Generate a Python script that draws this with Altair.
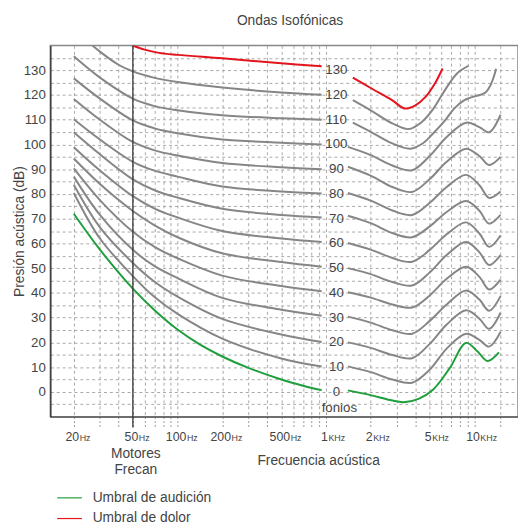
import altair as alt
import pandas as pd

# ---------------- data ----------------
LEFT_F = [20, 30, 50, 70, 100, 200, 500, 935]
L10 = [80.4, 62.0, 46.8, 38.3, 31.5, 21.5, 13.5, 10.3]
L20 = [83.7, 66.5, 52.1, 44.5, 38.5, 29.5, 23.2, 20.2]
L30 = [87.0, 71.5, 57.4, 50.8, 46.0, 38.0, 33.2, 30.8]
L40 = [90.3, 77.5, 64.7, 58.6, 54.0, 47.0, 42.8, 40.7]
L50 = [94.3, 84.0, 73.1, 67.3, 62.5, 56.0, 52.5, 50.6]
L60 = [98.9, 89.5, 79.1, 74.1, 70.5, 65.0, 62.0, 60.6]
L70 = [104.9, 96.0, 85.9, 81.5, 78.5, 74.0, 71.5, 70.5]
L80 = [110.2, 102.0, 93.0, 89.4, 87.0, 83.0, 81.0, 80.2]
L90 = [118.4, 110.0, 101.0, 97.6, 95.5, 92.5, 90.8, 90.0]
L100 = [126.7, 118.5, 109.7, 106.5, 104.5, 102.0, 100.7, 100.0]
L110 = [135.6, 127.0, 118.5, 115.5, 113.8, 111.8, 110.6, 110.0]
L120_F = [20, 25, 30, 40, 50, 70, 100, 200, 500, 935]
L120 = [146.5, 141.5, 137.5, 132.2, 129.5, 126.9, 125.2, 123.0, 121.0, 120.1]

RIGHT_F = [1404, 2000, 2800, 3800, 5000, 6500, 8783, 10800, 12552, 14990]
R10 = [10.3, 8.0, 5.0, 3.7, 9.0, 17.5, 23.5, 21.0, 18.3, 24.2]
R20 = [20.0, 17.8, 14.9, 13.6, 19.4, 27.2, 33.0, 29.6, 25.5, 32.0]
R30 = [30.4, 28.0, 24.9, 23.5, 28.7, 35.3, 41.0, 37.3, 32.8, 38.7]
R40 = [40.3, 38.1, 35.3, 34.1, 39.0, 45.7, 50.6, 46.5, 41.4, 45.4]
R50 = [50.0, 47.6, 44.4, 43.0, 48.3, 55.3, 60.6, 56.4, 51.3, 55.3]
R60 = [60.2, 57.5, 54.1, 52.6, 57.4, 63.7, 68.5, 64.0, 58.6, 63.2]
R70 = [71.2, 68.2, 64.2, 62.5, 66.9, 72.7, 77.1, 73.2, 68.0, 71.5]
R80 = [80.4, 77.3, 73.3, 71.5, 76.4, 82.8, 87.7, 83.5, 78.4, 81.0]
R90 = [91.0, 87.4, 82.8, 80.8, 86.0, 93.0, 98.3, 95.3, 91.7, 95.0]
R100 = [99.0, 95.7, 91.5, 89.6, 95.4, 103.0, 108.8, 107.0, 104.9, 112.0]
R110_F = [1516, 2000, 2800, 3700, 4500, 5280, 6300, 7300, 8500, 9200, 10000, 11000,
          11870, 12800, 13500, 13980]
R110 = [108.8, 105.1, 100.4, 98.3, 100.5, 104.5, 109.5, 114.5, 117.8, 118.7, 119.4, 120.1,
        121.0, 123.8, 127.3, 130.6]
R120_F = [1516, 2000, 2800, 3600, 4400, 5280, 6152, 7630, 9130]
R120 = [117.9, 113.8, 108.5, 106.2, 109.0, 114.4, 120.8, 128.7, 131.8]

G_LEFT_F = [20, 30, 50, 70, 100, 140, 200, 300, 500, 700, 935]
G_LEFT = [72.0, 57.5, 41.7, 33.0, 25.2, 19.3, 14.3, 9.7, 5.0, 2.5, 0.7]
G_RIGHT_F = [1404, 2000, 2700, 3339, 4200, 5280, 6800, 8783, 10500, 12236, 14630]
G_RIGHT = [0.6, -1.3, -3.3, -4.2, -2.8, 1.0, 9.5, 19.8, 16.3, 12.5, 16.0]

RED_LEFT_F = [50, 60, 75, 100, 200, 500, 935]
RED_LEFT = [140.0, 138.3, 137.0, 136.2, 134.8, 132.8, 131.6]
RED_RIGHT_F = [1516, 2000, 2800, 3400, 4000, 4700, 5400, 6100]
RED_RIGHT = [127.0, 122.8, 117.8, 114.5, 115.8, 119.3, 124.5, 130.7]

PHONS = [10, 20, 30, 40, 50, 60, 70, 80, 90, 100, 110, 120]
LEFTS = [L10, L20, L30, L40, L50, L60, L70, L80, L90, L100, L110, L120]
LEFT_FS = [LEFT_F] * 11 + [L120_F]
RIGHTS = [R10, R20, R30, R40, R50, R60, R70, R80, R90, R100, R110, R120]
RIGHT_FS = [RIGHT_F] * 10 + [R110_F, R120_F]

LABELS = ["130", "120", "110", "100", "90", "80", "70", "60", "50", "40", "30", "20", "10", "0"]
LABEL_DB = [130, 120, 110, 100, 90, 80, 70, 60, 50, 40, 30, 20, 10, 0]

GRID_F = [20, 30, 40, 50, 60, 70, 80, 90, 100, 200, 300, 400, 500, 600, 700, 800, 900,
          1000, 2000, 3000, 4000, 5000, 6000, 7000, 8000, 9000, 10000, 15000]
TICK_F = [20, 50, 100, 200, 500, 1000, 2000, 5000, 10000]
TICK_NUM = ["20", "50", "100", "200", "500", "1", "2", "5", "10"]
TICK_UNIT = ["Hz", "Hz", "Hz", "Hz", "Hz", "KHz", "KHz", "KHz", "KHz"]

AUD = "Umbral de audición"
DOL = "Umbral de dolor"

# ---------------- tables ----------------
gray_rows = []
for p, lf, lv, rf, rv in zip(PHONS, LEFT_FS, LEFTS, RIGHT_FS, RIGHTS):
    gray_rows += [{"f": f, "db": v, "seg": f"{p}L"} for f, v in zip(lf, lv)]
    gray_rows += [{"f": f, "db": v, "seg": f"{p}R"} for f, v in zip(rf, rv)]
gray_df = pd.DataFrame(gray_rows)

col_rows = []
col_rows += [{"f": f, "db": v, "seg": "gL", "tipo": AUD} for f, v in zip(G_LEFT_F, G_LEFT)]
col_rows += [{"f": f, "db": v, "seg": "gR", "tipo": AUD} for f, v in zip(G_RIGHT_F, G_RIGHT)]
col_rows += [{"f": f, "db": v, "seg": "rL", "tipo": DOL} for f, v in zip(RED_LEFT_F, RED_LEFT)]
col_rows += [{"f": f, "db": v, "seg": "rR", "tipo": DOL} for f, v in zip(RED_RIGHT_F, RED_RIGHT)]
col_df = pd.DataFrame(col_rows)

lab_df = pd.DataFrame({"f": [1175] * len(LABELS), "db": LABEL_DB, "t": LABELS})
tick_df = pd.DataFrame({"f": TICK_F, "num": TICK_NUM, "unit": TICK_UNIT})

# ---------------- style ----------------
PW, PH = 475, 377
FONT = "Liberation Sans"
TXT = "#444444"
GRAY = "#868686"
GREEN = "#1f9e3c"
RED = "#e3141d"
CURVE = "catmull-rom"

x_scale = alt.Scale(type="log", domain=[13.9, 19650], nice=False)
y_scale = alt.Scale(domain=[-10, 140], nice=False, zero=False)

x_axis = alt.Axis(values=GRID_F, labels=False, title="Frecuencia acústica",
                  titleX=272, titleY=49, titleAlign="center", titleBaseline="alphabetic",
                  titleFont=FONT, titleFontSize=14, titleFontWeight="normal", titleColor=TXT,
                  grid=True, gridDash=[3, 3], gridColor="#a8a8a8", gridWidth=1,
                  ticks=True, tickDash=[2, 2], tickSize=10, tickColor="#999999",
                  domainColor="#555555", domainWidth=1.4)
y_axis = alt.Axis(values=list(range(-5, 140, 5)),
                  labelExpr="datum.value >= 0 && datum.value % 10 == 0 ? datum.label : ''",
                  labelFont=FONT, labelFontSize=13.5, labelColor=TXT, labelPadding=5,
                  title="Presión acústica (dB)", titleX=-27, titleY=PH / 2, titleAngle=270,
                  titleAlign="center", titleBaseline="alphabetic",
                  titleFont=FONT, titleFontSize=14, titleFontWeight="normal", titleColor=TXT,
                  grid=True, gridDash=[3, 3], gridColor="#a8a8a8", gridWidth=1,
                  ticks=False, domainColor="#333333", domainWidth=1.4)

X = alt.X("f:Q", scale=x_scale, axis=x_axis)
Y = alt.Y("db:Q", scale=y_scale, axis=y_axis)

gray = alt.Chart(gray_df).mark_line(
    color=GRAY, strokeWidth=2, interpolate=CURVE, clip=True
).encode(x=X, y=Y, detail="seg:N")

colored = alt.Chart(col_df).mark_line(
    strokeWidth=2, interpolate=CURVE, clip=True
).encode(
    x=X, y=Y, detail="seg:N",
    color=alt.Color("tipo:N", scale=alt.Scale(domain=[AUD, DOL], range=[GREEN, RED]),
                    legend=alt.Legend(orient="none", legendX=6, legendY=446, title=None,
                                      symbolType="stroke", symbolSize=625,
                                      symbolStrokeWidth=1.2, labelFont=FONT,
                                      labelFontSize=14, labelColor=TXT, labelOffset=10,
                                      rowPadding=0, padding=0))
)

rule50 = alt.Chart(pd.DataFrame({"f": [50]})).mark_rule(
    color="#333333", strokeWidth=1.3
).encode(x=X, y=alt.value(0), y2=alt.value(PH + 11))

labels = alt.Chart(lab_df).mark_text(
    align="center", baseline="middle", font=FONT, fontSize=13.5, color=TXT
).encode(x=X, y=Y, text="t:N")

fonios = alt.Chart(pd.DataFrame({"f": [1230], "db": [-6.4], "t": ["fonios"]})).mark_text(
    align="center", baseline="middle", font=FONT, fontSize=13.5, color=TXT
).encode(x=X, y=Y, text="t:N")

ticknums = alt.Chart(tick_df).mark_text(
    align="center", baseline="alphabetic", font=FONT, fontSize=12.5, color=TXT, dx=-1.5
).encode(x=X, y=alt.value(PH + 25), text="num:N")

tickunits = alt.Chart(tick_df).transform_calculate(
    f="datum.f * pow(10, (length(datum.num) * 3.5 - 1) / 150.8)"
).mark_text(
    align="left", baseline="alphabetic", font=FONT, fontSize=9, color=TXT
).encode(x=X, y=alt.value(PH + 25), text="unit:N")

motores = alt.Chart(pd.DataFrame({"f": [50], "t": ["Motores\nFrecan"]})).mark_text(
    align="center", baseline="alphabetic", font=FONT, fontSize=14, color=TXT,
    lineBreak="\n", lineHeight=16, dx=3
).encode(x=X, y=alt.value(PH + 42), text="t:N")

chart = alt.layer(
    gray, colored, rule50, labels, fonios, ticknums, tickunits, motores
).properties(
    width=PW, height=PH,
    autosize=alt.AutoSizeParams(type="none"),
    padding={"left": 43, "top": 34, "right": 0, "bottom": 105},
    title=alt.TitleParams("Ondas Isofónicas", font=FONT, fontSize=14, fontWeight="normal",
                          color=TXT, anchor="middle", dx=6, offset=6, frame="group",
                          baseline="alphabetic"),
).configure_view(stroke="#888888", strokeWidth=1.5)

chart.save("out.html", embed_options={"renderer": "svg", "actions": False})
